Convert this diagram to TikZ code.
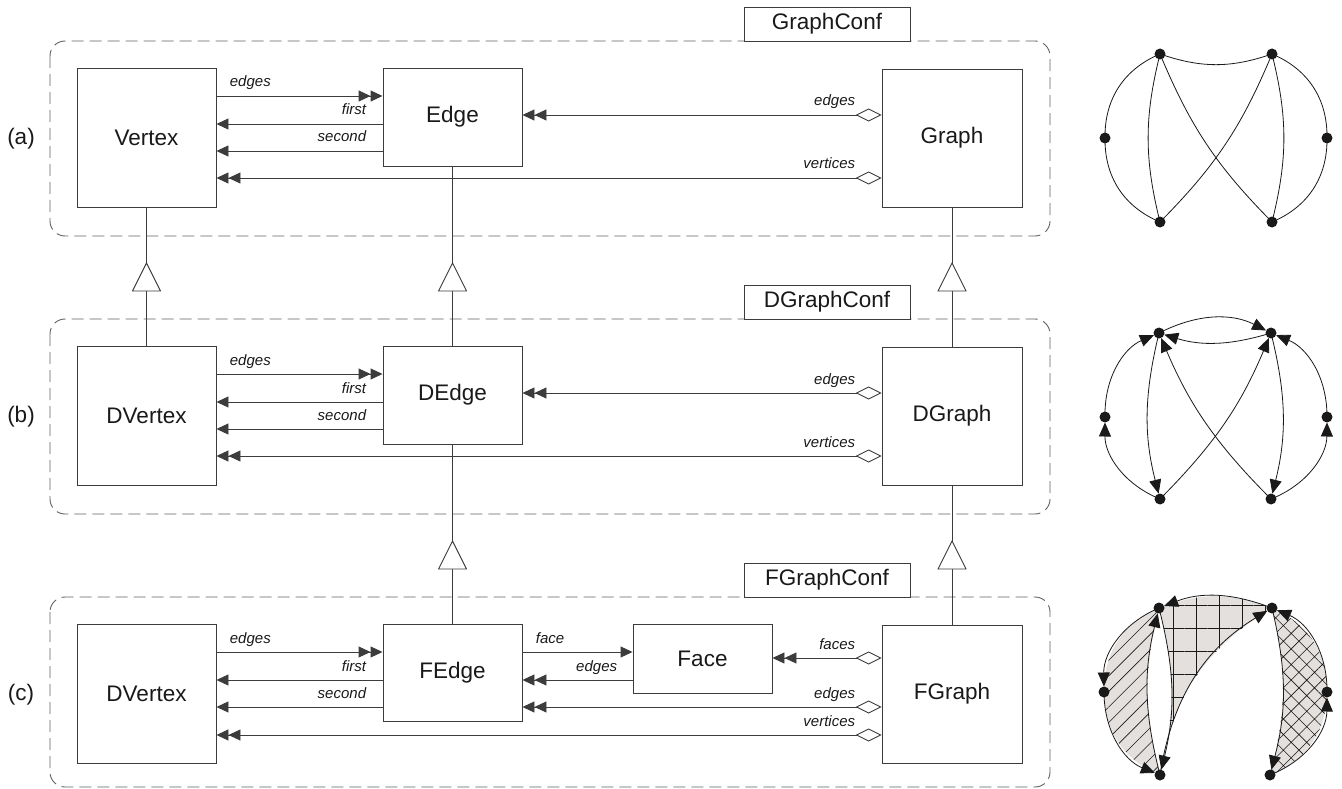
\documentclass[tikz,border=0pt]{standalone}
\usepackage{fontspec}
\setmainfont{Liberation Sans}
\usetikzlibrary{arrows.meta,patterns.meta}
\definecolor{ln}{RGB}{60,60,60}
\definecolor{dsh}{RGB}{95,95,95}
\definecolor{txt}{RGB}{25,25,25}
\definecolor{facefill}{RGB}{228,224,221}
\tikzset{
  clsbox/.style={draw=ln, line width=0.9pt, fill=white, inner sep=0pt, text=txt, font=\fontsize{22.5}{27}\selectfont},
  confbox/.style={clsbox, minimum width=166pt, minimum height=34pt},
  panellbl/.style={text=txt, inner sep=0pt, font=\fontsize{22.5}{27}\selectfont},
  conn/.style={draw=ln, line width=0.9pt},
  lab/.style={font=\fontsize{15}{18}\selectfont\itshape, inner sep=0pt, text=txt},
  labL/.style={lab, pos=0, anchor=base west, xshift=13pt, yshift=9pt},
  labR/.style={lab, pos=0, anchor=base east, xshift=-16pt, yshift=9pt},
  labA/.style={lab, pos=0, anchor=base east, xshift=-26pt, yshift=9pt},
  tipone/.style={-{Triangle[length=12pt,width=11pt]}},
  tiptwo/.style={-{Triangle[length=12pt,width=11pt]Triangle[length=12pt,width=11pt]}},
  aggtwo/.style={{Diamond[open,length=26pt,width=13pt]}-{Triangle[length=12pt,width=11pt]Triangle[length=12pt,width=11pt]}},
  dashbox/.style={draw=dsh, line width=0.9pt, dash pattern=on 12pt off 6pt, rounded corners=15pt},
  inhtri/.style={draw=ln, line width=0.9pt, fill=white},
  gedge/.style={draw=txt, line width=0.8pt},
  garrow/.style={gedge, -{Triangle[length=14pt,width=12pt]}, shorten >=5.5pt},
  gdot/.style={fill=txt},
}
\begin{document}
\begin{tikzpicture}[x=1pt,y=-1pt]
\useasboundingbox (0,0) rectangle (1342,789);

% ---------- package frames ----------
\draw[dashbox] (50,41) rectangle (1050,236);
\draw[dashbox] (50,319) rectangle (1050,514);
\draw[dashbox] (50,597) rectangle (1050,787);
\node[confbox] (gc) at (827,24) {GraphConf};
\node[confbox] (dgc) at (827,302) {DGraphConf};
\node[confbox] (fgc) at (827,580) {FGraphConf};

\node[panellbl] (pa) at (21,139) {(a)};
\node[panellbl] (pb) at (21,417) {(b)};
\node[panellbl] (pc) at (21,695) {(c)};

% ---------- classes ----------
\node[clsbox, minimum width=139pt, minimum height=139pt] (v1) at (146.5,137.5) {Vertex};
\node[clsbox, minimum width=139pt, minimum height=98pt] (e1) at (452.5,117) {Edge};
\node[clsbox, minimum width=140pt, minimum height=138pt] (g1) at (952,138) {Graph};

\node[clsbox, minimum width=139pt, minimum height=139pt] (v2) at (146.5,415.5) {DVertex};
\node[clsbox, minimum width=139pt, minimum height=98pt] (e2) at (452.5,395) {DEdge};
\node[clsbox, minimum width=140pt, minimum height=138pt] (g2) at (952,416) {DGraph};

\node[clsbox, minimum width=139pt, minimum height=139pt] (v3) at (146.5,693.5) {DVertex};
\node[clsbox, minimum width=139pt, minimum height=97pt] (e3) at (452.5,672.5) {FEdge};
\node[clsbox, minimum width=139pt, minimum height=69pt] (f3) at (702.5,658.5) {Face};
\node[clsbox, minimum width=140pt, minimum height=138pt] (g3) at (952,694) {FGraph};

% ---------- inheritance ----------
\draw[conn] (v2.north) -- (v1.south);
\draw[conn] (e2.north) -- (e1.south);
\draw[conn] (g2.north) -- (g1.south);
\draw[conn] (e3.north) -- (e2.south);
\draw[conn] (g3.north) -- (g2.south);
\draw[inhtri] (v1.south |- 0,263) -- ++(-14,28) -- ++(28,0) -- cycle;
\draw[inhtri] (e1.south |- 0,263) -- ++(-14,28) -- ++(28,0) -- cycle;
\draw[inhtri] (g1.south |- 0,263) -- ++(-14,28) -- ++(28,0) -- cycle;
\draw[inhtri] (e2.south |- 0,541) -- ++(-14,28) -- ++(28,0) -- cycle;
\draw[inhtri] (g2.south |- 0,541) -- ++(-14,28) -- ++(28,0) -- cycle;

% ---------- associations (a) ----------
\draw[conn, tiptwo] (v1.east |- 0,96) -- node[labL]{edges} (e1.west |- 0,96);
\draw[conn, tipone] (e1.west |- 0,124) -- node[labR]{first} (v1.east |- 0,124);
\draw[conn, tipone] (e1.west |- 0,151) -- node[labR]{second} (v1.east |- 0,151);
\draw[conn, aggtwo] (g1.west |- 0,115) -- node[labA]{edges} (e1.east |- 0,115);
\draw[conn, aggtwo] (g1.west |- 0,178) -- node[labA]{vertices} (v1.east |- 0,178);

% ---------- associations (b) ----------
\draw[conn, tiptwo] (v2.east |- 0,374) -- node[labL]{edges} (e2.west |- 0,374);
\draw[conn, tipone] (e2.west |- 0,402) -- node[labR]{first} (v2.east |- 0,402);
\draw[conn, tipone] (e2.west |- 0,429) -- node[labR]{second} (v2.east |- 0,429);
\draw[conn, aggtwo] (g2.west |- 0,393) -- node[labA]{edges} (e2.east |- 0,393);
\draw[conn, aggtwo] (g2.west |- 0,456) -- node[labA]{vertices} (v2.east |- 0,456);

% ---------- associations (c) ----------
\draw[conn, tiptwo] (v3.east |- 0,652) -- node[labL]{edges} (e3.west |- 0,652);
\draw[conn, tipone] (e3.west |- 0,680) -- node[labR]{first} (v3.east |- 0,680);
\draw[conn, tipone] (e3.west |- 0,707) -- node[labR]{second} (v3.east |- 0,707);
\draw[conn, tipone] (e3.east |- 0,652) -- node[labL]{face} (f3.west |- 0,652);
\draw[conn, tiptwo] (f3.west |- 0,680) -- node[labR, xshift=1pt]{edges} (e3.east |- 0,680);
\draw[conn, aggtwo] (g3.west |- 0,658) -- node[labA]{faces} (f3.east |- 0,658);
\draw[conn, aggtwo] (g3.west |- 0,707) -- node[labA]{edges} (e3.east |- 0,707);
\draw[conn, aggtwo] (g3.west |- 0,735) -- node[labA]{vertices} (v3.east |- 0,735);

% ---------- graph (a) ----------
\coordinate (atl) at (1160,54);
\coordinate (atr) at (1272,54);
\coordinate (al) at (1105,138);
\coordinate (ar) at (1327,138);
\coordinate (abl) at (1160,222);
\coordinate (abr) at (1272,222);
\draw[gedge] (atl) to[bend right=19] (atr);
\draw[gedge] (al) to[bend left=34] (atl);
\draw[gedge] (al) to[bend right=34] (abl);
\draw[gedge] (atl) to[bend right=14] (abl);
\draw[gedge] (atl) to[bend right=11] (abr);
\draw[gedge] (atr) to[bend left=11] (abl);
\draw[gedge] (atr) to[bend left=14] (abr);
\draw[gedge] (atr) to[bend left=34] (ar);
\draw[gedge] (ar) to[bend left=34] (abr);
\foreach \p in {atl,atr,al,ar,abl,abr} \fill[gdot] (\p) circle (5.5pt);

% ---------- graph (b) ----------
\coordinate (btl) at (1159,333);
\coordinate (btr) at (1271,333);
\coordinate (bl) at (1105,417);
\coordinate (br) at (1327,417);
\coordinate (bbl) at (1160,499);
\coordinate (bbr) at (1271,499);
\draw[garrow] (btl) to[bend left=27] (btr);
\draw[garrow] (btr) to[bend left=17] (btl);
\draw[garrow] (bl) to[bend left=34] (btl);
\draw[garrow] (bbl) to[bend left=34] (bl);
\draw[garrow] (btl) to[bend right=14] (bbl);
\draw[garrow] (bbl) to[bend right=11] (btr);
\draw[garrow] (bbr) to[bend left=11] (btl);
\draw[garrow] (btr) to[bend left=14] (bbr);
\draw[garrow] (br) to[bend right=34] (btr);
\draw[garrow] (bbr) to[bend right=34] (br);
\foreach \p in {btl,btr,bl,br,bbl,bbr} \fill[gdot] (\p) circle (5.5pt);

% ---------- graph (c) ----------
\coordinate (ctl) at (1159,608);
\coordinate (ctr) at (1272,608);
\coordinate (cl) at (1104,692);
\coordinate (cr) at (1327,692);
\coordinate (cbl) at (1160,775);
\coordinate (cbr) at (1270,775);
\path[preaction={fill=facefill}, pattern={Lines[angle=45,distance=11pt,line width=0.6pt]}, pattern color=txt]
  (ctl) to[bend right=34] (cl) to[bend right=34] (cbl) to[bend left=14] (ctl) -- cycle;
\path[preaction={fill=facefill}, pattern={Hatch[angle=0,distance=23pt,line width=0.7pt]}, pattern color=txt]
  (ctr) to[bend right=21] (ctl) to[bend left=14] (cbl) to[bend left=25] (ctr) -- cycle;
\path[preaction={fill=facefill}, pattern={Hatch[angle=45,distance=11pt,line width=0.6pt]}, pattern color=txt]
  (cbr) to[bend right=34] (cr) to[bend right=34] (ctr) to[bend left=14] (cbr) -- cycle;
\draw[garrow] (ctr) to[bend right=21] (ctl);
\draw[garrow] (ctl) to[bend left=14] (cbl);
\draw[garrow] (cbl) to[bend left=25] (ctr);
\draw[garrow] (ctl) to[bend right=34] (cl);
\draw[garrow] (cl) to[bend right=34] (cbl);
\draw[garrow] (cbl) to[bend left=14] (ctl);
\draw[garrow] (cbr) to[bend right=34] (cr);
\draw[garrow] (cr) to[bend right=34] (ctr);
\draw[garrow] (ctr) to[bend left=14] (cbr);
\foreach \p in {ctl,ctr,cl,cr,cbl,cbr} \fill[gdot] (\p) circle (5.5pt);
\end{tikzpicture}
\end{document}
